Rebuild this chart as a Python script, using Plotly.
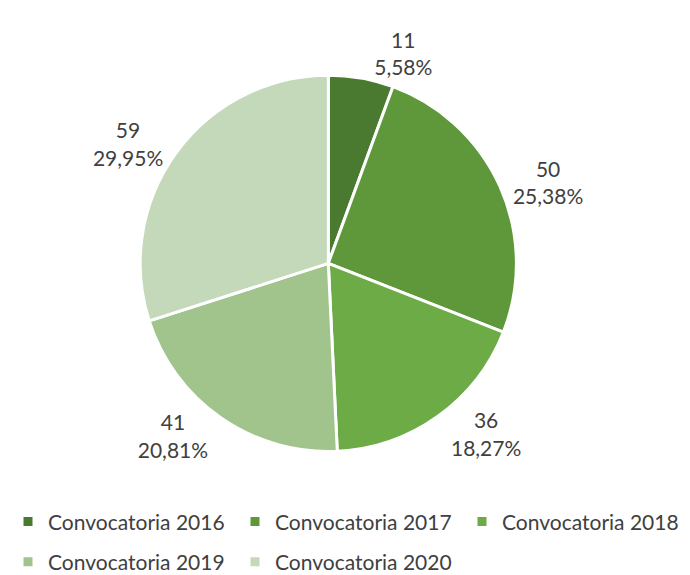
import plotly.graph_objects as go

labels = ["Convocatoria 2016", "Convocatoria 2017", "Convocatoria 2018",
          "Convocatoria 2019", "Convocatoria 2020"]
values = [11, 50, 36, 41, 59]
colors = ["#4a7a2f", "#5e983b", "#6dab46", "#a1c38c", "#c4d8ba"]
legend_rows = ["legend", "legend", "legend", "legend2", "legend2"]

fig = go.Figure(go.Pie(
    labels=labels,
    values=values,
    sort=False,
    direction="clockwise",
    rotation=0,
    marker=dict(colors=colors, line=dict(color="white", width=3)),
    textposition="outside",
    texttemplate="%{value}<br>%{percent:.2%}",
    textfont=dict(family="Lato", size=21, color="#404040"),
    domain=dict(x=[0.1872, 0.7412], y=[0.2165, 0.8812]),
    showlegend=False,
))

# legend entries in two rows, like the original
for lab, col, leg in zip(labels, colors, legend_rows):
    fig.add_trace(go.Scatter(
        x=[None], y=[None], mode="markers", name=lab,
        marker=dict(symbol="square", size=9, color=col),
        legend=leg,
    ))

leg_style = dict(
    orientation="h",
    xanchor="left",
    yanchor="middle",
    entrywidth=182,
    font=dict(family="Lato", size=21, color="#404040"),
    traceorder="normal",
    bgcolor="rgba(0,0,0,0)",
)

fig.update_layout(
    width=690,
    height=575,
    separators=",.",
    margin=dict(l=0, r=0, t=0, b=0),
    paper_bgcolor="white",
    plot_bgcolor="white",
    font=dict(family="Lato", size=21, color="#404040"),
    xaxis=dict(visible=False),
    yaxis=dict(visible=False),
    legend=dict(x=0, y=0.092, **leg_style),
    legend2=dict(x=0, y=0.021, **leg_style),
)

fig.write_html("out.html")
